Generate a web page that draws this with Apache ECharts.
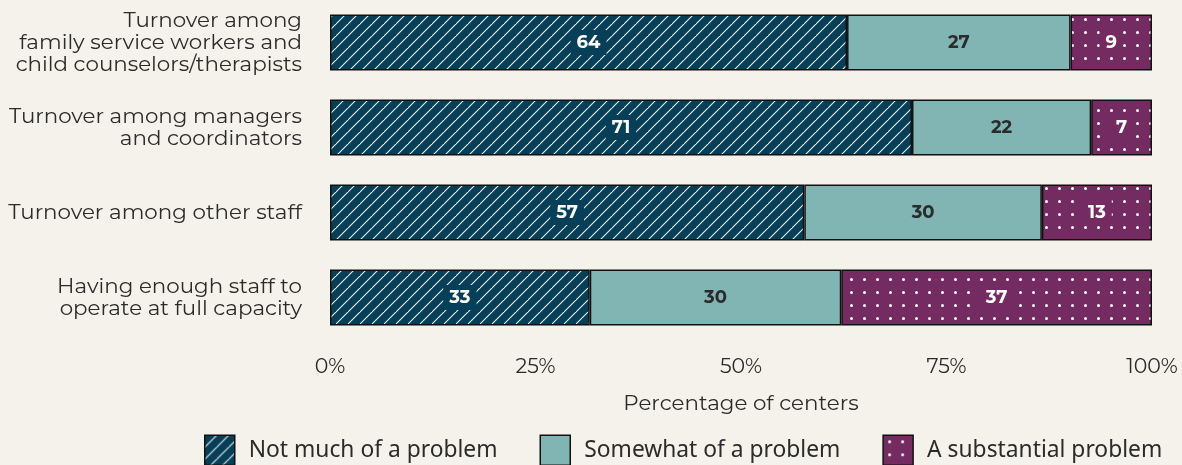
<!DOCTYPE html>
<html><head><meta charset="utf-8">
<script src="https://cdn.jsdelivr.net/npm/echarts@6/dist/echarts.min.js"></script>
<style>html,body{margin:0;padding:0;background:#f5f2eb;}#c{width:1182px;height:465px;}</style>
</head><body><div id="c"></div>
<script>
const categories = [
  "Turnover among\nfamily service workers and\nchild counselors/therapists",
  "Turnover among managers\nand coordinators",
  "Turnover among other staff",
  "Having enough staff to\noperate at full capacity"
];
const seriesNames = ["Not much of a problem", "Somewhat of a problem", "A substantial problem"];
// bar lengths (share of centers, %) as drawn
const notMuch = [62.9, 70.8, 57.7, 31.6];
const somewhat = [27.2, 21.8, 28.9, 30.6];
const substantial = [9.9, 7.4, 13.4, 37.8];
// printed labels
const notMuchLabels = [64, 71, 57, 33];
const somewhatLabels = [27, 22, 30, 30];
const substantialLabels = [9, 7, 13, 37];
const xTicks = [0, 25, 50, 75, 100];

const DARK = '#083f58', TEAL = '#80b5b4', PURPLE = '#732b62';

function hatch() {
  const s = 12, c = document.createElement('canvas');
  c.width = s; c.height = s;
  const g = c.getContext('2d');
  g.fillStyle = DARK; g.fillRect(0, 0, s, s);
  g.strokeStyle = 'rgba(255,255,255,0.9)'; g.lineWidth = 1.1;
  g.beginPath();
  g.moveTo(-1, s + 1); g.lineTo(s + 1, -1);
  g.moveTo(-1 - s, s + 1); g.lineTo(1, -1);
  g.moveTo(s - 1, 2 * s + 1); g.lineTo(2 * s + 1, s - 1);
  g.stroke();
  return c;
}
function dots() {
  const s = 13, c = document.createElement('canvas');
  c.width = s; c.height = s;
  const g = c.getContext('2d');
  g.fillStyle = PURPLE; g.fillRect(0, 0, s, s);
  g.fillStyle = '#ffffff';
  g.beginPath(); g.arc(6.5, 6.5, 1.5, 0, Math.PI * 2); g.fill();
  return c;
}
const hatchPat = { image: hatch(), repeat: 'repeat' };
const dotPat = { image: dots(), repeat: 'repeat' };

const FONT = 'Montserrat, "DejaVu Sans", sans-serif';

function mk(name, data, labels, color, labelColor, labelBg) {
  return {
    name, type: 'bar', stack: 'a', barWidth: 56,
    data: data,
    itemStyle: { color: color, borderColor: '#111', borderWidth: 1.5 },
    label: {
      show: true, position: 'inside',
      formatter: p => String(labels[p.dataIndex]),
      color: labelColor, fontFamily: FONT, fontWeight: 'bold', fontSize: 18,
      backgroundColor: labelBg, padding: [4, 6, 3, 6]
    },
    emphasis: { disabled: true }
  };
}

const chart = echarts.init(document.getElementById('c'));
chart.setOption({
  backgroundColor: '#f5f2eb',
  animation: false,
  grid: { left: 330, right: 30, top: -2, height: 342, containLabel: false },
  xAxis: {
    type: 'value', min: 0, max: 100, interval: 25,
    axisLabel: { formatter: v => xTicks.includes(v) ? v + '%' : '', color: '#2b2b2b', fontFamily: FONT, fontSize: 20.5, margin: 16 },
    axisLine: { show: false }, axisTick: { show: false }, splitLine: { show: false },
    name: 'Percentage of centers', nameLocation: 'middle', nameGap: 53,
    nameTextStyle: { color: '#2b2b2b', fontFamily: FONT, fontSize: 21.4 }
  },
  yAxis: {
    type: 'category', data: categories, inverse: true,
    axisLine: { show: false }, axisTick: { show: false },
    axisLabel: { color: '#2b2b2b', fontFamily: FONT, fontSize: 21.4, lineHeight: 22, margin: 28, align: 'right' }
  },
  legend: {
    bottom: -1, left: 204, width: 1000, itemWidth: 30, itemHeight: 30, itemGap: 42,
    icon: 'rect', padding: 0,
    textStyle: { color: '#2b2b2b', fontFamily: '"Noto Sans", sans-serif', fontSize: 22.8, padding: [0, 0, 0, 9] },
    itemStyle: { borderColor: '#111', borderWidth: 1.5 },
    data: seriesNames
  },
  series: [
    mk(seriesNames[0], notMuch, notMuchLabels, hatchPat, '#ffffff', DARK),
    mk(seriesNames[1], somewhat, somewhatLabels, TEAL, '#2b2b2b', 'transparent'),
    mk(seriesNames[2], substantial, substantialLabels, dotPat, '#ffffff', PURPLE)
  ]
});
</script></body></html>
